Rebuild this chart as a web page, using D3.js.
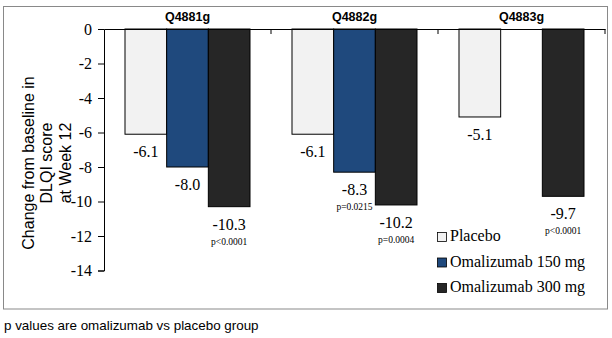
<!DOCTYPE html>
<html>
<head>
<meta charset="utf-8">
<script src="https://cdn.jsdelivr.net/npm/d3@7"></script>
<style>
  body { margin: 0; background: #fff; }
  svg { display: block; }
  .serif { font-family: "Liberation Serif", "Times New Roman", serif; }
  .sans { font-family: "Liberation Sans", Arial, sans-serif; }
</style>
</head>
<body>
<div id="chart"></div>
<script>
// data
const groups = ["Q4881g", "Q4882g", "Q4883g"];
const seriesNames = ["Placebo", "Omalizumab 150 mg", "Omalizumab 300 mg"];
const placebo = [-6.1, -6.1, -5.1];
const omal150 = [-8.0, -8.3, null];
const omal300 = [-10.3, -10.2, -9.7];
const pval150 = [null, "p=0.0215", null];
const pval300 = ["p<0.0001", "p=0.0004", "p<0.0001"];
const yTicks = [0, -2, -4, -6, -8, -10, -12, -14];
const colors = ["#f2f2f2", "#1f497d", "#262626"];

const W = 612, H = 338;
const svg = d3.select("#chart").append("svg").attr("width", W).attr("height", H);

// outer frame
svg.append("rect")
  .attr("x", 3.5).attr("y", 6.5)
  .attr("width", 604).attr("height", 302.5)
  .attr("fill", "none").attr("stroke", "#898989");

const x = d3.scaleBand().domain(groups).range([104, 605]).padding(0);
const xs = d3.scaleBand().domain(seriesNames).range([21, 146]).padding(0);
const y = d3.scaleLinear().domain([0, -14]).range([29, 270.5]);
const color = d3.scaleOrdinal().domain(seriesNames).range(colors);

const rows = [];
groups.forEach((g, i) => {
  rows.push({ g, s: seriesNames[0], v: placebo[i], p: null });
  rows.push({ g, s: seriesNames[1], v: omal150[i], p: pval150[i] });
  rows.push({ g, s: seriesNames[2], v: omal300[i], p: pval300[i] });
});
const bars = rows.filter((d) => d.v !== null);

// bars
svg.selectAll(".bar")
  .data(bars)
  .enter()
  .append("rect")
  .attr("class", "bar")
  .attr("x", (d) => x(d.g) + xs(d.s))
  .attr("width", xs.bandwidth())
  .attr("y", y(0))
  .attr("height", (d) => y(d.v) - y(0))
  .attr("fill", (d) => color(d.s))
  .attr("stroke", "#000")
  .attr("stroke-width", 1);

// y axis
const yAxis = svg.append("g")
  .attr("transform", `translate(104,0)`)
  .call(d3.axisLeft(y).tickValues(yTicks).tickSize(6).tickPadding(6).tickFormat((d) => String(d)));
yAxis.attr("font-family", null).attr("font-size", null);
yAxis.selectAll("text")
  .style("font-family", '"Liberation Serif", "Times New Roman", serif')
  .style("font-size", "16px")
  .attr("fill", "#000");
yAxis.selectAll("line").attr("stroke", "#000");
yAxis.select(".domain").attr("stroke", "#000");

// x axis (at zero)
const xAxis = svg.append("g")
  .attr("transform", `translate(0,${y(0)})`)
  .call(d3.axisBottom(x).tickSize(0).tickFormat(""));
xAxis.select(".domain").attr("stroke", "#000");
xAxis.selectAll(".tick").remove();
xAxis.selectAll(".sep")
  .data(groups)
  .enter()
  .append("line")
  .attr("x1", (d) => x(d) + x.bandwidth())
  .attr("x2", (d) => x(d) + x.bandwidth())
  .attr("y1", 0)
  .attr("y2", 5)
  .attr("stroke", "#000");

// group titles
svg.selectAll(".gtitle")
  .data(groups)
  .enter()
  .append("text")
  .attr("class", "sans")
  .attr("x", (d) => x(d) + x.bandwidth() / 2)
  .attr("y", 20.5)
  .attr("text-anchor", "middle")
  .style("font-size", "12.5px")
  .style("font-weight", "bold")
  .text((d) => d);

// value labels
svg.selectAll(".vlabel")
  .data(bars)
  .enter()
  .append("text")
  .attr("class", "serif")
  .attr("x", (d) => x(d.g) + xs(d.s) + xs.bandwidth() / 2)
  .attr("y", (d) => y(d.v) + 23)
  .attr("text-anchor", "middle")
  .style("font-size", "16px")
  .text((d) => d.v.toFixed(1));

// p values
svg.selectAll(".plabel")
  .data(bars.filter((d) => d.p))
  .enter()
  .append("text")
  .attr("class", "serif")
  .attr("x", (d) => x(d.g) + xs(d.s) + xs.bandwidth() / 2)
  .attr("y", (d) => y(d.v) + 38)
  .attr("text-anchor", "middle")
  .style("font-size", "9.5px")
  .text((d) => d.p);

// y title
const yTitle = ["Change from baseline in", "DLQI score", "at Week 12"];
svg.selectAll(".ytitle")
  .data(yTitle)
  .enter()
  .append("text")
  .attr("class", "sans")
  .attr("transform", (d, i) => `translate(${34 + i * 18.3},163) rotate(-90)`)
  .attr("text-anchor", "middle")
  .style("font-size", "16px")
  .text((d) => d);

// legend
const legend = svg.selectAll(".legend")
  .data(seriesNames)
  .enter()
  .append("g")
  .attr("class", "legend")
  .attr("transform", (d, i) => `translate(437,${241 + i * 25.5})`);
legend.append("rect")
  .attr("x", 0.5).attr("y", -8.5)
  .attr("width", 9).attr("height", 9)
  .attr("fill", (d) => color(d))
  .attr("stroke", "#000")
  .attr("stroke-width", 0.8);
legend.append("text")
  .attr("class", "serif")
  .attr("x", 13)
  .attr("y", 0)
  .style("font-size", "16px")
  .text((d) => d);

// footnote
svg.append("text")
  .attr("class", "sans")
  .attr("x", 4)
  .attr("y", 330)
  .style("font-size", "13.4px")
  .text("p values are omalizumab vs placebo group");
</script>
</body>
</html>
